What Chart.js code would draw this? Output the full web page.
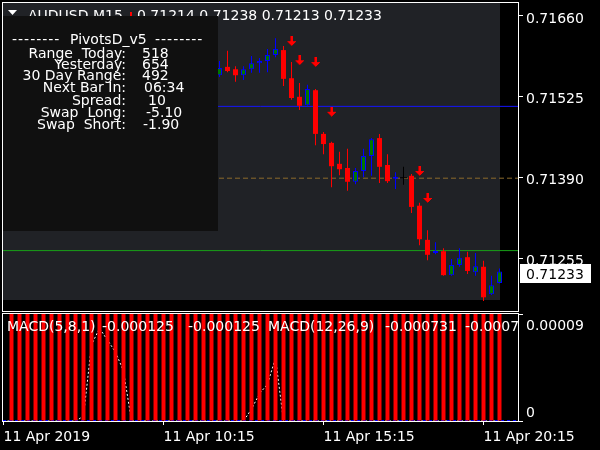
<!DOCTYPE html>
<html>
<head>
<meta charset="utf-8">
<title>AUDUSD M15</title>
<script src="https://cdn.jsdelivr.net/npm/chart.js@4.4.1/dist/chart.umd.min.js"></script>
<style>
  html, body { margin: 0; padding: 0; background: #000; overflow: hidden; }
  #wrap { position: relative; width: 600px; height: 450px; }
  #wrap canvas { position: absolute; left: 0; top: 0; }
</style>
</head>
<body>
<div id="wrap">
  <canvas id="priceChart" width="600" height="450"></canvas>
  <canvas id="macdChart" width="600" height="450"></canvas>
</div>
<script>
"use strict";

// 15 minute bars of 11 Apr 2019
const barTimes = [
  '05:15', '05:30', '05:45', '06:00', '06:15', '06:30', '06:45', '07:00', '07:15', '07:30',
  '07:45', '08:00', '08:15', '08:30', '08:45', '09:00', '09:15', '09:30', '09:45', '10:00',
  '10:15', '10:30', '10:45', '11:00', '11:15', '11:30', '11:45', '12:00', '12:15', '12:30',
  '12:45', '13:00', '13:15', '13:30', '13:45', '14:00', '14:15', '14:30', '14:45', '15:00',
  '15:15', '15:30', '15:45', '16:00', '16:15', '16:30', '16:45', '17:00', '17:15', '17:30',
  '17:45', '18:00', '18:15', '18:30', '18:45', '19:00', '19:15', '19:30', '19:45', '20:00',
  '20:15', '20:30', '20:45'
];
const timeTickBars = ['05:15', '10:15', '15:15', '20:15'];
const timeTickLabels = ['11 Apr 2019', '11 Apr 10:15', '11 Apr 15:15', '11 Apr 20:15'];

// candles visible to the right of the info panel
const candleTimes = [
  '12:00', '12:15', '12:30', '12:45', '13:00', '13:15', '13:30', '13:45', '14:00', '14:15',
  '14:30', '14:45', '15:00', '15:15', '15:30', '15:45', '16:00', '16:15', '16:30', '16:45',
  '17:00', '17:15', '17:30', '17:45', '18:00', '18:15', '18:30', '18:45', '19:00', '19:15',
  '19:30', '19:45', '20:00', '20:15', '20:30', '20:45'
];
const openPx = [
  0.71561, 0.71575, 0.71571, 0.71561, 0.71571, 0.71581, 0.71585, 0.71595, 0.71603, 0.71556,
  0.71525, 0.71511, 0.71536, 0.71463, 0.71448, 0.71413, 0.71406, 0.71383, 0.71401, 0.71426,
  0.71456, 0.71411, 0.71388, 0.71389, 0.71393, 0.71343, 0.71286, 0.71264, 0.71267, 0.71227,
  0.71244, 0.71257, 0.71232, 0.71241, 0.71195, 0.71214
];
const highPx = [
  0.71585, 0.71602, 0.71576, 0.71576, 0.71593, 0.71590, 0.71605, 0.71623, 0.71610, 0.71583,
  0.71548, 0.71545, 0.71538, 0.71466, 0.71450, 0.71433, 0.71438, 0.71406, 0.71438, 0.71456,
  0.71463, 0.71429, 0.71399, 0.71408, 0.71396, 0.71348, 0.71302, 0.71282, 0.71272, 0.71254,
  0.71272, 0.71266, 0.71264, 0.71251, 0.71226, 0.71238
];
const lowPx = [
  0.71558, 0.71566, 0.71550, 0.71553, 0.71565, 0.71565, 0.71566, 0.71591, 0.71543, 0.71520,
  0.71503, 0.71510, 0.71444, 0.71429, 0.71374, 0.71394, 0.71368, 0.71379, 0.71391, 0.71393,
  0.71381, 0.71381, 0.71371, 0.71378, 0.71331, 0.71277, 0.71252, 0.71262, 0.71226, 0.71226,
  0.71241, 0.71229, 0.71226, 0.71184, 0.71194, 0.71213
];
const closePx = [
  0.71573, 0.71568, 0.71561, 0.71571, 0.71581, 0.71585, 0.71595, 0.71605, 0.71555, 0.71523,
  0.71510, 0.71538, 0.71463, 0.71446, 0.71409, 0.71404, 0.71383, 0.71401, 0.71426, 0.71454,
  0.71408, 0.71384, 0.71391, 0.71389, 0.71341, 0.71287, 0.71261, 0.71267, 0.71227, 0.71244,
  0.71256, 0.71234, 0.71242, 0.71190, 0.71210, 0.71233
];

// sell arrows
const arrowTimes = ['14:15', '14:30', '15:00', '15:30', '18:15', '18:30'];
const arrowPrices = [0.71618, 0.71586, 0.71583, 0.71500, 0.71401, 0.71356];

// horizontal pivot levels
const pivotLevels = [0.71509, 0.71389, 0.71268];
const panelLowPrice = 0.71185;

// price scale
const priceTicks = [0.71255, 0.71390, 0.71525, 0.71660];
const priceMin = 0.711671;
const priceMax = 0.716817;

// MACD window
const macdHist = [
  null, 0.00009, 0.00009, 0.00009, 0.00009, 0.00009, 0.00009, 0.00009, 0.00009, 0.00009,
  0.00009, 0.00009, 0.00009, 0.00009, 0.00009, 0.00009, 0.00009, 0.00009, 0.00009, 0.00009,
  0.00009, 0.00009, 0.00009, 0.00009, 0.00009, 0.00009, 0.00009, 0.00009, 0.00009, 0.00009,
  0.00009, 0.00009, 0.00009, 0.00009, 0.00009, 0.00009, 0.00009, 0.00009, 0.00009, 0.00009,
  0.00009, 0.00009, 0.00009, 0.00009, 0.00009, 0.00009, 0.00009, 0.00009, 0.00009, 0.00009,
  0.00009, 0.00009, 0.00009, 0.00009, 0.00009, 0.00009, 0.00009, 0.00009, 0.00009, 0.00009,
  0.00009, 0.00009, 0.00009
];
const macdSignal = [
  0, 0, 0, 0, 0, 0, 0, 0, 0, 0,
  0.000004, 0.000064, 0.000078, 0.000068, 0.000058, 0.000042, 0, 0, 0, 0,
  0, 0, 0, 0, 0, 0, 0, 0, 0, 0,
  0, 0.000010, 0.000023, 0.000031, 0.000053, 0, 0, 0, 0, 0,
  0, 0, 0, 0, 0, 0, 0, 0, 0, 0,
  0, 0, 0, 0, 0, 0, 0, 0, 0, 0,
  0, 0, 0
];
const macdZero = 0;
const macdTicks = [0, 0.00009];
const macdLegend = ['MACD(5,8,1)', '-0.000125', '-0.000125', 'MACD(12,26,9)', '-0.000731', '-0.000707'];

// PivotsD_v5 panel
const infoLabels = ['Range  Today:', 'Yesterday:', '30 Day Range:', 'Next Bar In:', 'Spread:', 'Swap  Long:', 'Swap  Short:'];
const infoValues = ['518', '654', '492', '06:34', '10', '-5.10', '-1.90'];

const FONT = '14px "DejaVu Sans"';
Chart.defaults.font.family = 'DejaVu Sans';
Chart.defaults.font.size = 14;
Chart.defaults.color = '#ffffff';

const xMin = -0.0625;
const xMax = 64.3125;
const xOf = t => barTimes.indexOf(t);

const candles = candleTimes.map((t, k) => ({
  x: xOf(t), o: openPx[k], h: highPx[k], l: lowPx[k], c: closePx[k]
}));
const wickColor = d => d.c > d.o ? '#0000ff' : (d.c < d.o ? '#ff0000' : '#000000');

// red down arrow used as point style
const arrowImg = document.createElement('canvas');
arrowImg.width = 9;
arrowImg.height = 10;
(function () {
  const g = arrowImg.getContext('2d');
  const rows = [[3, 5], [3, 5], [3, 5], [3, 5], [3, 5], [0, 8], [1, 7], [2, 6], [3, 5], [4, 4]];
  rows.forEach((r, i) => {
    g.fillStyle = '#ff0000';
    g.fillRect(r[0], i, r[1] - r[0] + 1, 1);
    g.fillStyle = '#b00000';
    g.fillRect(r[0], i, 1, 1);
  });
})();

const zeroPad = s => { s.paddingTop = 0; s.paddingBottom = 0; s.paddingLeft = 0; s.paddingRight = 0; };

const priceDecor = {
  id: 'priceDecor',
  beforeDatasetsDraw(chart) {
    const { ctx, chartArea: a, scales: { x, y } } = chart;
    const right = Math.round(x.getPixelForValue(barTimes.length - 1));
    const bottom = Math.round(y.getPixelForValue(panelLowPrice));
    ctx.save();
    ctx.fillStyle = '#202226';
    ctx.fillRect(a.left, a.top, right - a.left, bottom - a.top);
    ctx.restore();
  },
  afterDatasetsDraw(chart) {
    const ctx = chart.ctx;
    const last = candles.length - 1;
    ctx.save();
    // title line
    ctx.fillStyle = '#ffffff';
    ctx.beginPath();
    ctx.moveTo(8, 10); ctx.lineTo(17, 10); ctx.lineTo(12.5, 15); ctx.closePath();
    ctx.fill();
    ctx.font = FONT;
    ctx.textBaseline = 'alphabetic';
    ctx.fillText('AUDUSD M15', 28, 20);
    ctx.fillStyle = '#ff0000';
    ctx.fillRect(130, 12, 2, 4);
    ctx.fillStyle = '#ffffff';
    ctx.fillText([openPx[last], highPx[last], lowPx[last], closePx[last]].map(v => v.toFixed(5)).join(' '), 137, 20);

    // info panel
    ctx.fillStyle = '#101010';
    ctx.fillRect(3, 16, 215, 215);
    ctx.fillStyle = '#ffffff';
    ctx.letterSpacing = '1px';
    ctx.fillText('--------', 12, 44);
    ctx.fillText('--------', 155, 44);
    ctx.letterSpacing = '0px';
    ctx.fillText('PivotsD_v5', 70, 44);
    const baselines = [58, 69, 80, 92, 105, 117, 129];
    const valueX = [142, 142, 142, 144, 148, 146, 143];
    infoLabels.forEach((txt, i) => {
      ctx.textAlign = 'right';
      ctx.fillText(txt, 126, baselines[i]);
      ctx.textAlign = 'left';
      ctx.fillText(infoValues[i], valueX[i], baselines[i]);
    });
    ctx.restore();
  },
  afterDraw(chart) {
    const { ctx, chartArea: a, scales: { y } } = chart;
    const last = closePx[closePx.length - 1];
    ctx.save();
    ctx.strokeStyle = '#ffffff';
    ctx.lineWidth = 1;
    ctx.strokeRect(a.left - 0.5, a.top - 0.5, a.width + 1, a.height + 1);
    const py = Math.round(y.getPixelForValue(last));
    ctx.fillStyle = '#ffffff';
    ctx.fillRect(a.right + 2, py - 8, 71, 19);
    ctx.fillStyle = '#000000';
    ctx.font = FONT;
    ctx.textBaseline = 'middle';
    ctx.fillText(last.toFixed(5), a.right + 8, py + 3);
    ctx.restore();
  }
};

new Chart(document.getElementById('priceChart'), {
  type: 'bar',
  data: {
    datasets: [
      {
        type: 'line', data: [{ x: xMin, y: pivotLevels[0] }, { x: xMax, y: pivotLevels[0] }],
        borderColor: '#1414ff', borderWidth: 1, pointRadius: 0, order: 10
      },
      {
        type: 'line', data: [{ x: xMin, y: pivotLevels[1] }, { x: xMax, y: pivotLevels[1] }],
        borderColor: '#8c6a2c', borderWidth: 1, borderDash: [5, 3], pointRadius: 0, order: 10
      },
      {
        type: 'line', data: [{ x: xMin, y: pivotLevels[2] }, { x: xMax, y: pivotLevels[2] }],
        borderColor: '#18a018', borderWidth: 1, pointRadius: 0, order: 10
      },
      {
        label: 'wick', data: candles.map(d => ({ x: d.x, y: [d.l, d.h] })),
        backgroundColor: ctx => wickColor(candles[ctx.dataIndex]),
        barThickness: 1, grouped: false, inflateAmount: 0, borderWidth: 0, order: 5
      },
      {
        label: 'bull', data: candles.filter(d => d.c > d.o).map(d => ({ x: d.x, y: [d.o, d.c] })),
        backgroundColor: '#007800', borderColor: '#0000ff', borderWidth: 1, borderSkipped: false,
        barThickness: 5, minBarLength: 2, grouped: false, inflateAmount: 0, order: 4
      },
      {
        label: 'bear', data: candles.filter(d => d.c < d.o).map(d => ({ x: d.x, y: [d.o, d.c] })),
        backgroundColor: '#ff0000', borderWidth: 0,
        barThickness: 5, grouped: false, inflateAmount: 0, order: 4
      },
      {
        label: 'doji', data: candles.filter(d => d.c === d.o).map(d => ({ x: d.x, y: [d.o, d.c] })),
        backgroundColor: '#000000', borderWidth: 0, minBarLength: 1,
        barThickness: 7, grouped: false, inflateAmount: 0, order: 4
      },
      {
        type: 'line', label: 'sell', showLine: false,
        data: arrowTimes.map((t, k) => ({ x: xOf(t), y: arrowPrices[k] })),
        pointStyle: arrowImg, pointRadius: 5, order: 1
      }
    ]
  },
  options: {
    responsive: false,
    animation: false,
    events: [],
    devicePixelRatio: 1,
    layout: { autoPadding: false, padding: { left: 3, top: 3, right: 0, bottom: 139 } },
    scales: {
      x: { type: 'linear', min: xMin, max: xMax, offset: false, grid: { offset: false }, display: false },
      y: {
        position: 'right', min: priceMin, max: priceMax,
        afterBuildTicks: s => { s.ticks = priceTicks.map(v => ({ value: v })); },
        afterFit: s => { s.width = 82; zeroPad(s); },
        ticks: { callback: v => v.toFixed(5), color: '#ffffff', padding: 3, labelOffset: 3 },
        grid: { drawOnChartArea: false, drawTicks: true, tickLength: 5, color: '#ffffff' },
        border: { display: false }
      }
    },
    plugins: { legend: { display: false }, tooltip: { enabled: false } }
  },
  plugins: [priceDecor]
});

const macdDecor = {
  id: 'macdDecor',
  afterDraw(chart) {
    const { ctx, chartArea: a, scales: { y } } = chart;
    ctx.save();
    ctx.beginPath();
    ctx.rect(a.left, a.top, a.width, a.height);
    ctx.clip();
    ctx.font = FONT;
    ctx.fillStyle = '#ffffff';
    ctx.textBaseline = 'alphabetic';
    const lx = [7, 102, 188, 268, 385, 465];
    macdLegend.forEach((t, i) => ctx.fillText(t, lx[i], 331));
    ctx.restore();

    ctx.save();
    ctx.strokeStyle = '#ffffff';
    ctx.lineWidth = 1;
    ctx.strokeRect(a.left - 0.5, a.top - 0.5, a.width + 1, a.height + 1);
    ctx.font = FONT;
    ctx.fillStyle = '#ffffff';
    ctx.textBaseline = 'middle';
    macdTicks.forEach(v => {
      const py = Math.min(Math.max(y.getPixelForValue(v), a.top + 11), a.bottom - 9);
      ctx.fillText(v === 0 ? '0' : v.toFixed(5), a.right + 8, py + 1);
    });
    ctx.restore();
  }
};

new Chart(document.getElementById('macdChart'), {
  type: 'bar',
  data: {
    datasets: [
      {
        label: 'hist', data: macdHist.map((v, i) => ({ x: i, y: v })),
        backgroundColor: '#ff0000', barThickness: 4, grouped: false, inflateAmount: 0, order: 0
      },
      {
        type: 'line', label: 'zero',
        data: [{ x: xMin, y: macdZero }, { x: xMax, y: macdZero }],
        borderColor: '#0000ff', borderWidth: 2, borderDash: [3, 3], pointRadius: 0, order: 1
      },
      {
        type: 'line', label: 'signal', data: macdSignal.map((v, i) => ({ x: i, y: v })),
        borderColor: '#ffffff', borderWidth: 1, borderDash: [2, 2], pointRadius: 0, order: 2
      }
    ]
  },
  options: {
    responsive: false,
    animation: false,
    events: [],
    devicePixelRatio: 1,
    layout: { autoPadding: false, padding: { left: 3, top: 314, right: 0, bottom: 0 } },
    scales: {
      x: {
        type: 'linear', min: xMin, max: xMax, offset: false,
        afterBuildTicks: s => { s.ticks = timeTickBars.map(t => ({ value: xOf(t) })); },
        afterFit: s => { s.height = 29; zeroPad(s); },
        ticks: {
          callback: v => timeTickLabels[timeTickBars.indexOf(barTimes[v])],
          align: 'start', maxRotation: 0, autoSkip: false, padding: 4, color: '#ffffff'
        },
        grid: { drawOnChartArea: false, drawTicks: true, tickLength: 4, color: '#ffffff', offset: false },
        border: { display: false }
      },
      y: {
        position: 'right', min: 0, max: 0.00009,
        afterBuildTicks: s => { s.ticks = macdTicks.map(v => ({ value: v })); },
        afterFit: s => { s.width = 82; zeroPad(s); },
        ticks: { display: false },
        grid: { drawOnChartArea: false, drawTicks: true, tickLength: 5, color: '#ffffff' },
        border: { display: false }
      }
    },
    plugins: { legend: { display: false }, tooltip: { enabled: false } }
  },
  plugins: [macdDecor]
});
</script>
</body>
</html>
